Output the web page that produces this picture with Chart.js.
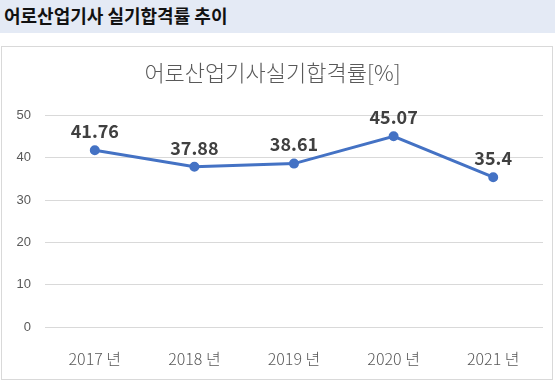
<!DOCTYPE html>
<html><head><meta charset="utf-8">
<script src="https://cdn.jsdelivr.net/npm/chart.js@4"></script>
<style>
html,body{margin:0;padding:0;background:#fff;width:555px;height:386px;overflow:hidden;}
#hdr{position:absolute;left:0;top:0;width:555px;height:33px;background:#E4EAF5;}
#hdr span{position:absolute;left:4px;top:4px;font-family:"Noto Sans CJK KR","Noto Sans";font-weight:bold;font-size:18px;color:#111;line-height:22px;}
#box{position:absolute;left:1px;top:46px;width:550px;height:332px;border:1px solid #D9D9D9;}
#wrap{position:absolute;left:0;top:0;width:550px;height:332px;}
</style></head><body>
<div id="hdr"><span>어로산업기사 실기합격률 추이</span></div>
<div id="box"><div id="wrap"><canvas id="c"></canvas></div></div>
<script>
const categories = ["2017 년","2018 년","2019 년","2020 년","2021 년"];
const passRates = [41.76, 37.88, 38.61, 45.07, 35.4];
const dataLabels = ["41.76","37.88","38.61","45.07","35.4"];
const chartTitle = "어로산업기사실기합격률[%]";

const labelPlugin = {
  id:'vals',
  afterDatasetsDraw(chart){
    const ctx = chart.ctx;
    const meta = chart.getDatasetMeta(0);
    ctx.save();
    ctx.font = 'bold 18px "Noto Sans CJK KR", "Noto Sans", sans-serif';
    ctx.fillStyle = '#404040';
    ctx.textAlign = 'center';
    ctx.textBaseline = 'middle';
    meta.data.forEach((pt,i)=>{ ctx.fillText(dataLabels[i], pt.x, pt.y - 19); });
    ctx.restore();
  }
};

new Chart(document.getElementById('c'), {
  type:'line',
  data:{labels:categories, datasets:[{data:passRates, borderColor:'#4472C4', backgroundColor:'#4472C4', borderWidth:3, pointRadius:3.5, pointHoverRadius:3.5, tension:0}]},
  options:{
    responsive:true, maintainAspectRatio:false, animation:false,
    layout:{padding:{left:0,right:9,top:0,bottom:0}},
    plugins:{
      legend:{display:false}, tooltip:{enabled:false},
      title:{display:true, text:chartTitle, color:'#595959', font:{family:'"Noto Sans CJK KR", "Noto Sans", sans-serif', size:22, weight:'300'}, padding:{top:12,bottom:30}}
    },
    scales:{
      x:{offset:true, grid:{display:false}, border:{display:false},
         ticks:{color:'#595959', font:{family:'"Noto Sans CJK KR", "Noto Sans", sans-serif', size:16, weight:'300'}, padding:14},
         afterFit(s){ s.height = 52; }},
      y:{min:0,max:50, grid:{color:'#D9D9D9', lineWidth:1, drawTicks:false}, border:{display:false},
         ticks:{stepSize:10, color:'#595959', font:{family:'"Liberation Sans", sans-serif', size:13}, padding:14},
         afterFit(s){ s.width = 43; }}
    }
  },
  plugins:[labelPlugin]
});
</script>
</body></html>
